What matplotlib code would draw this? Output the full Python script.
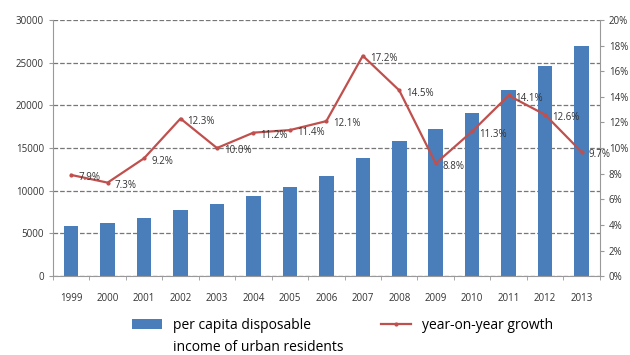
import matplotlib.pyplot as plt
import numpy as np

years = ['1999', '2000', '2001', '2002', '2003', '2004', '2005', '2006',
         '2007', '2008', '2009', '2010', '2011', '2012', '2013']
income = [5854, 6280, 6860, 7703, 8472, 9422, 10493, 11759,
          13786, 15781, 17175, 19109, 21810, 24565, 26955]
growth = [7.9, 7.3, 9.2, 12.3, 10.0, 11.2, 11.4, 12.1,
          17.2, 14.5, 8.8, 11.3, 14.1, 12.6, 9.7]

plt.rcParams['font.family'] = ['Open Sans', 'DejaVu Sans']

fig = plt.figure(figsize=(6.3, 3.55), dpi=100)
ax = fig.add_axes([0.084, 0.222, 0.868, 0.722])
x = np.arange(len(years))

bars = ax.bar(x, income, width=0.4, color='#4a7ebb', zorder=2)
ax.set_ylim(0, 30000)
ax.set_yticks(range(0, 30001, 5000))
ax.set_xlim(-0.45, 14.5)
ax.set_xticks(x)
ax.set_xticklabels(years)
ax.set_xticks(np.arange(-0.5, 14.6, 1), minor=True)
ax.tick_params(axis='x', which='major', length=0, labelsize=7, pad=12, colors='#333333')
ax.tick_params(axis='x', which='minor', length=3, color='#999999')
ax.tick_params(axis='y', labelsize=7, length=3, color='#999999', colors='#333333')
ax.yaxis.grid(True, linestyle='--', color='#777777', linewidth=0.9, zorder=0)
ax.set_axisbelow(True)
for s in ['top', 'right']:
    ax.spines[s].set_visible(False)
for s in ['left', 'bottom']:
    ax.spines[s].set_color('#999999')

ax2 = ax.twinx()
line, = ax2.plot(x, growth, color='#c0504d', linewidth=1.6, marker='.', markersize=4, zorder=3)
ax2.set_ylim(0, 20)
ax2.set_yticks(range(0, 21, 2))
ax2.set_yticklabels([f'{v}%' for v in range(0, 21, 2)])
ax2.tick_params(axis='y', labelsize=7, length=3, color='#999999', colors='#333333')
for s in ['top', 'left', 'bottom']:
    ax2.spines[s].set_visible(False)
ax2.spines['right'].set_color('#999999')

for xi, g in zip(x, growth):
    ax2.annotate(f'{g:.1f}%', (xi, g), xytext=(5, -2), textcoords='offset points',
                 fontsize=7, color='#333333', va='center', ha='left')

leg = fig.legend([bars, line], ['per capita disposable', 'year-on-year growth'],
                 loc='upper left', bbox_to_anchor=(0.2, 0.12), ncol=2, frameon=False,
                 fontsize=10, handlelength=2.2, columnspacing=5.0, borderaxespad=0)

# second line of the first legend label, left-aligned under the first line
fig.canvas.draw()
bb = leg.get_texts()[0].get_window_extent()
fig.text(bb.x0 / 630, (bb.y0 - 22) / 355, 'income of urban residents',
         fontsize=10, ha='left', va='bottom')

fig.savefig('out.png', dpi=100)
